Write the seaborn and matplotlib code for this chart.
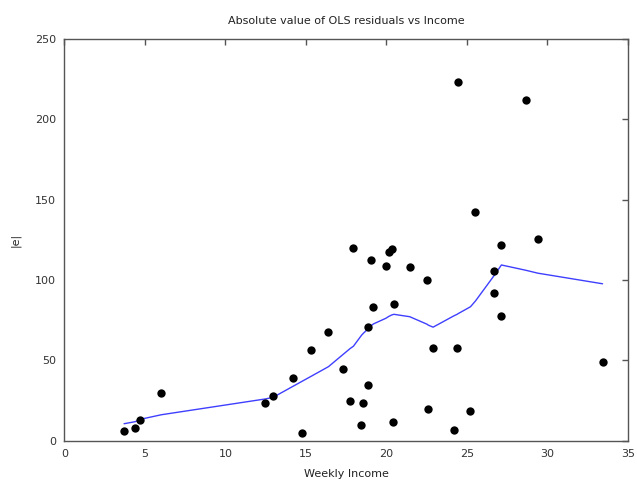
import matplotlib
matplotlib.use("Agg")
import matplotlib.pyplot as plt
import seaborn as sns
import pandas as pd

# Observations: weekly income and absolute OLS residuals
income = [3.71, 4.41, 4.70, 6.03, 12.47, 12.96, 14.22, 14.78, 15.34, 16.40,
          17.33, 17.76, 17.95, 18.45, 18.57, 18.84, 18.84, 19.03, 19.19, 19.96,
          20.15, 20.33, 20.40, 20.46, 21.45, 22.53, 22.59, 22.90, 24.20, 24.39,
          24.45, 25.22, 25.53, 26.65, 26.71, 27.14, 27.14, 28.66, 29.40, 33.42]
abs_resid = [6.0, 7.8, 13.0, 29.8, 23.6, 27.9, 39.1, 4.7, 56.2, 67.4,
             44.7, 24.8, 120.0, 9.7, 23.6, 34.8, 70.5, 112.4, 82.9, 108.6,
             117.6, 119.2, 11.6, 84.8, 108.0, 99.9, 19.7, 57.4, 6.6, 57.4,
             223.3, 18.4, 142.4, 105.7, 91.8, 121.9, 77.3, 211.9, 125.6, 48.7]
# Locally weighted fit evaluated at each income value
loess_fit = [10.5, 11.8, 13.2, 16.1, 25.9, 26.9, 33.9, 37.0, 40.1, 46.0,
             53.8, 57.4, 58.7, 65.5, 66.8, 69.4, 69.4, 71.3, 72.6, 76.1,
             77.3, 78.2, 78.4, 78.6, 77.1, 72.4, 71.9, 70.6, 77.7, 78.6,
             79.0, 83.3, 86.9, 102.2, 103.0, 109.3, 109.3, 106.0, 104.2, 97.6]

x_ticks = [0, 5, 10, 15, 20, 25, 30, 35]
y_ticks = [0, 50, 100, 150, 200, 250]

df = pd.DataFrame({"income": income, "resid": abs_resid, "fit": loess_fit})

sns.set_style("white")
plt.rcParams["font.family"] = ["DejaVu Sans"]

fig = plt.figure(figsize=(6.37, 4.87), dpi=100)
ax = fig.add_axes([64.3 / 637, 46.4 / 487, (628 - 64.3) / 637, (440.6 - 38.9) / 487])

sns.scatterplot(data=df, x="income", y="resid", ax=ax, color="black",
                s=36, edgecolor="black", linewidth=0, zorder=3)
sns.lineplot(data=df, x="income", y="fit", ax=ax, color="#3f3fff",
             linewidth=1.0, estimator=None, sort=False, zorder=2)

ax.set_xlim(0, 35)
ax.set_ylim(0, 250)
ax.set_xticks(x_ticks)
ax.set_yticks(y_ticks)

for side in ax.spines.values():
    side.set_color("#555555")
    side.set_linewidth(1.0)

ax.tick_params(axis="both", direction="in", length=4, width=1, color="#555555",
               top=True, right=True, labelsize=8, labelcolor="#333333", pad=6)

ax.set_title("Absolute value of OLS residuals vs Income", fontsize=8,
             color="#222222", pad=11)
ax.set_xlabel("Weekly Income", fontsize=8, color="#222222", labelpad=7)
ax.set_ylabel("|e|", fontsize=8, color="#222222", labelpad=10)

fig.savefig("out.png", dpi=100)
